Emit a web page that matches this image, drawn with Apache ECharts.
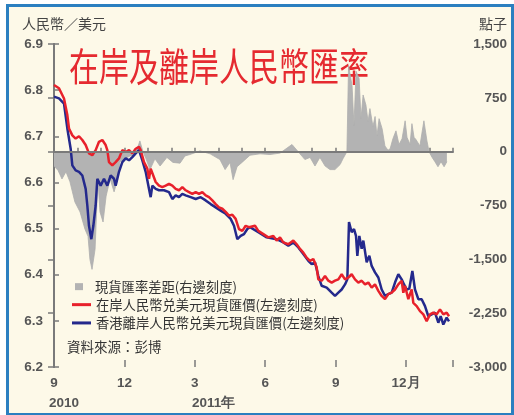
<!DOCTYPE html>
<html>
<head>
<meta charset="utf-8">
<script src="https://cdn.jsdelivr.net/npm/echarts@6/dist/echarts.min.js"></script>
<style>
html,body{margin:0;padding:0;background:#ffffff;}
#frame{position:absolute;left:6px;top:4px;width:502px;height:406px;border:3px solid #2b7fc0;background:#fdf9e8;}
#chart{position:absolute;left:0;top:0;width:514px;height:415px;}
</style>
</head>
<body>
<div id="frame"></div>
<div id="chart"></div>
<script>
// Month labels along the x axis (month index 0 = Sep 2010)
const monthLabels = ['9','','','12','','','3','','','6','','','9','','','12月','',''];
const yearLabels = ['2010','2011年'];

// 在岸人民幣兑美元現貨匯價 (CNY): time in months since 1 Sep 2010, value
const cnyT = [
  0.000,0.213,0.426,0.568,0.639,0.781,0.923,1.065,1.207,1.349,1.491,1.633,1.775,1.917,2.059,2.201,2.272,2.343,2.485,2.627,
  2.769,2.911,3.054,3.196,3.338,3.480,3.622,3.693,3.835,3.977,4.048,4.119,4.190,4.332,4.474,4.616,4.758,4.900,5.042,5.184,
  5.326,5.468,5.610,5.752,5.894,6.036,6.178,6.320,6.462,6.604,6.746,6.888,7.030,7.172,7.314,7.456,7.598,7.740,7.882,8.024,
  8.166,8.308,8.351,8.564,8.706,8.919,9.132,9.345,9.487,9.629,9.771,9.984,10.197,10.339,10.481,10.623,10.765,10.907,11.049,11.191,
  11.262,11.405,11.547,11.689,11.831,11.973,12.115,12.257,12.399,12.541,12.683,12.825,12.967,13.109,13.251,13.393,13.535,13.677,13.819,13.961,
  14.103,14.245,14.387,14.529,14.671,14.813,14.884,14.955,15.097,15.239,15.310,15.452,15.594,15.736,15.878,16.020,16.162,16.304,16.446,16.588,
  16.730,16.830
];
const cnyValues = [
  6.811,6.804,6.782,6.746,6.717,6.702,6.695,6.700,6.692,6.681,6.663,6.659,6.670,6.688,6.692,6.681,6.670,6.644,6.637,6.644,
  6.652,6.670,6.666,6.670,6.663,6.673,6.677,6.670,6.644,6.630,6.608,6.630,6.634,6.601,6.593,6.590,6.593,6.597,6.593,6.586,
  6.583,6.590,6.583,6.579,6.575,6.579,6.575,6.579,6.572,6.568,6.561,6.553,6.546,6.543,6.536,6.528,6.530,6.521,6.499,6.495,
  6.506,6.503,6.503,6.506,6.495,6.488,6.481,6.484,6.474,6.481,6.470,6.466,6.474,6.466,6.456,6.448,6.437,6.430,6.434,6.416,
  6.390,6.387,6.397,6.387,6.383,6.387,6.390,6.401,6.390,6.394,6.401,6.390,6.383,6.387,6.379,6.383,6.372,6.379,6.365,6.354,
  6.347,6.358,6.361,6.368,6.379,6.387,6.361,6.376,6.347,6.368,6.339,6.332,6.321,6.314,6.299,6.314,6.318,6.314,6.325,6.314,
  6.318,6.310
];

// 香港離岸人民幣兑美元現貨匯價 (CNH)
const cnhT = [
  0.000,0.213,0.426,0.568,0.710,0.781,0.923,1.065,1.207,1.349,1.420,1.491,1.591,1.676,1.775,1.846,1.988,2.130,2.272,2.414,
  2.556,2.627,2.769,2.911,3.054,3.196,3.338,3.480,3.622,3.764,3.906,4.048,4.119,4.190,4.332,4.474,4.687,4.900,5.042,5.184,
  5.326,5.468,5.610,5.823,6.036,6.249,6.462,6.675,6.888,7.101,7.314,7.527,7.669,7.811,7.953,8.095,8.237,8.351,8.706,9.061,
  9.487,9.771,9.984,10.197,10.410,10.623,10.836,10.978,11.120,11.262,11.405,11.618,11.831,11.973,12.115,12.257,12.399,12.498,12.569,12.683,
  12.782,12.867,12.924,13.009,13.109,13.180,13.322,13.435,13.535,13.677,13.819,13.961,14.103,14.245,14.387,14.529,14.671,14.813,14.913,15.026,
  15.140,15.268,15.381,15.523,15.665,15.807,15.949,16.091,16.233,16.375,16.475,16.588,16.730,16.830
];
const cnhValues = [
  6.786,6.782,6.771,6.717,6.673,6.637,6.626,6.623,6.615,6.586,6.550,6.506,6.477,6.506,6.550,6.608,6.593,6.608,6.593,6.615,
  6.608,6.593,6.623,6.644,6.652,6.648,6.655,6.663,6.670,6.648,6.623,6.586,6.568,6.593,6.586,6.583,6.583,6.579,6.564,6.572,
  6.568,6.575,6.572,6.568,6.564,6.568,6.561,6.553,6.546,6.539,6.532,6.521,6.506,6.477,6.484,6.488,6.499,6.503,6.492,6.481,
  6.477,6.470,6.463,6.470,6.459,6.445,6.430,6.423,6.427,6.397,6.376,6.372,6.361,6.354,6.361,6.368,6.379,6.390,6.514,6.492,
  6.499,6.484,6.441,6.484,6.456,6.474,6.427,6.441,6.419,6.405,6.394,6.368,6.354,6.358,6.361,6.383,6.401,6.390,6.379,6.368,
  6.370,6.408,6.368,6.347,6.347,6.332,6.310,6.314,6.318,6.296,6.310,6.292,6.307,6.299
];

// 現貨匯率差距 (點子)
const spreadT = [
  0,0.17,0.34,0.51,0.68,0.89,1.11,1.32,1.45,1.53,1.62,1.75,1.87,1.96,2.09,2.22,2.39,2.56,2.68,2.81,
  3.03,3.24,3.45,3.66,3.79,3.92,4.09,4.30,4.52,4.81,5.07,5.37,5.58,5.79,6.22,6.65,7.07,7.29,7.50,7.63,
  7.80,8.01,8.35,8.78,9.20,9.63,10.14,10.48,10.69,10.91,11.12,11.33,11.55,11.76,11.97,12.19,12.31,12.48,12.55,12.59,
  12.70,12.78,12.87,13.00,13.08,13.17,13.29,13.38,13.46,13.59,13.68,13.76,13.85,13.98,14.10,14.23,14.32,14.44,14.57,14.70,
  14.83,14.96,15.04,15.17,15.25,15.34,15.42,15.59,15.76,15.89,15.98,16.11,16.23,16.36,16.49,16.62,16.74
];
const spreadValues = [
  -200,-260,-380,-280,-420,-700,-840,-1080,-1180,-1500,-1640,-1360,-380,-840,-980,-620,-380,-560,-420,-140,
  -100,-60,-50,150,0,-100,-250,-100,-200,-80,-150,-160,-60,-40,10,-30,-110,-250,-150,-390,
  -210,-150,-50,-30,-40,-20,100,-30,-110,-80,-200,-80,-200,-250,-250,-180,-100,0,1200,1200,
  920,360,1120,1020,460,790,650,420,600,350,490,220,460,320,80,20,40,180,290,100,
  180,430,200,100,390,200,170,80,430,150,0,-80,-140,-210,-140,-210,-140
];

const seriesNames = ['現貨匯率差距(右邊刻度)', '在岸人民幣兑美元現貨匯價(左邊刻度)', '香港離岸人民幣兑美元現貨匯價(左邊刻度)'];

const pair = (ts, vs) => ts.map((t, i) => [t, vs[i]]);
const NUM = 'Liberation Sans, Arial, sans-serif';
const CJK = '"Noto Sans CJK TC", "Noto Sans", sans-serif';
const axisColor = '#7a7a7a';
const labelColor = '#555555';

const chart = echarts.init(document.getElementById('chart'), null, {renderer: 'canvas'});
chart.setOption({
  backgroundColor: 'transparent',
  animation: false,
  grid: {left: 54, right: 61, top: 44, bottom: 48},
  xAxis: [{
    type: 'value', min: 0, max: 17, interval: 1,
    axisLine: {show: true, lineStyle: {color: axisColor, width: 2}},
    axisTick: {show: true, inside: true, length: 4, lineStyle: {color: axisColor, width: 1.5}},
    axisLabel: {margin: 9, color: labelColor, fontFamily: NUM, fontWeight: 'bold', fontSize: 13.5,
      formatter: v => monthLabels[v] || ''},
    splitLine: {show: false}
  }, {
    type: 'value', min: 0, max: 17, interval: 3, position: 'bottom',
    axisLine: {show: false},
    axisTick: {show: true, inside: true, length: 7, lineStyle: {color: axisColor, width: 1.5}},
    axisLabel: {show: false}, splitLine: {show: false}
  }],
  yAxis: [{
    type: 'value', min: 6.2, max: 6.9, interval: 0.1, position: 'left',
    axisLine: {show: true, lineStyle: {color: axisColor, width: 2}},
    axisTick: {show: true, inside: true, length: 5, lineStyle: {color: axisColor, width: 1.5}},
    axisLabel: {margin: 11, color: labelColor, fontFamily: NUM, fontWeight: 'bold', fontSize: 13.5,
      formatter: v => v.toFixed(1)},
    splitLine: {show: false}
  }, {
    type: 'value', min: -3000, max: 1500, interval: 750, position: 'right',
    axisLine: {show: true, lineStyle: {color: axisColor, width: 2}},
    axisTick: {show: true, inside: true, length: 6, lineStyle: {color: axisColor, width: 1.5}},
    axisLabel: {margin: 54, align: 'right', color: labelColor, fontFamily: NUM, fontWeight: 'bold', fontSize: 13.5,
      formatter: v => v.toLocaleString('en-US')},
    splitLine: {show: false}
  }],
  legend: [{
    left: 70, top: 275, orient: 'vertical',
    itemWidth: 8, itemHeight: 7,
    data: [{name: seriesNames[0], icon: 'rect'}],
    textStyle: {color: '#333333', fontFamily: CJK, fontSize: 13.3, padding: [0, 0, 0, 7]}
  }, {
    left: 67, top: 293, orient: 'vertical', itemGap: 5,
    itemWidth: 19, itemHeight: 3,
    data: [{name: seriesNames[1], icon: 'rect'}, {name: seriesNames[2], icon: 'rect'}],
    textStyle: {color: '#333333', fontFamily: CJK, fontSize: 13.3}
  }],
  graphic: [
    {type: 'text', x: 22, y: 17, style: {text: '人民幣／美元', fill: '#444', font: '14px ' + CJK, verticalAlign: 'top'}},
    {type: 'text', x: 507, y: 17, style: {text: '點子', fill: '#444', font: '14px ' + CJK, align: 'right', verticalAlign: 'top'}},
    {type: 'text', x: 69, y: 47, scaleY: 1.3, style: {text: '在岸及離岸人民幣匯率', fill: '#e52a30', font: '30px ' + CJK, verticalAlign: 'top'}},
    {type: 'text', x: 67, y: 340, style: {text: '資料來源：彭博', fill: '#333333', font: '13.5px ' + CJK, verticalAlign: 'top'}},
    {type: 'text', x: 49, y: 396, style: {text: yearLabels[0], fill: labelColor, font: 'bold 13.5px ' + NUM, verticalAlign: 'top'}},
    {type: 'text', x: 192, y: 396, style: {text: yearLabels[1], fill: labelColor, font: 'bold 13.5px ' + NUM, verticalAlign: 'top'}}
  ],
  series: [{
    name: seriesNames[0], type: 'line', xAxisIndex: 0, yAxisIndex: 1,
    data: pair(spreadT, spreadValues),
    showSymbol: false, symbol: 'none',
    itemStyle: {color: '#b3b3b3'},
    lineStyle: {color: '#adadad', width: 0.8},
    areaStyle: {color: '#b3b3b3', opacity: 1, origin: 0},
    markLine: {
      silent: true, symbol: ['none', 'none'], label: {show: false},
      lineStyle: {color: '#7a7a7a', width: 2, type: 'solid'},
      data: [{yAxis: 0}]
    },
    z: 1
  }, {
    name: seriesNames[2], type: 'line', xAxisIndex: 0, yAxisIndex: 0,
    data: pair(cnhT, cnhValues),
    showSymbol: false, symbol: 'none',
    itemStyle: {color: '#24298c'},
    lineStyle: {color: '#24298c', width: 2.5},
    z: 3
  }, {
    name: seriesNames[1], type: 'line', xAxisIndex: 0, yAxisIndex: 0,
    data: pair(cnyT, cnyValues),
    showSymbol: false, symbol: 'none',
    itemStyle: {color: '#e8212b'},
    lineStyle: {color: '#e8212b', width: 2.5},
    z: 4
  }]
});
</script>
</body>
</html>
